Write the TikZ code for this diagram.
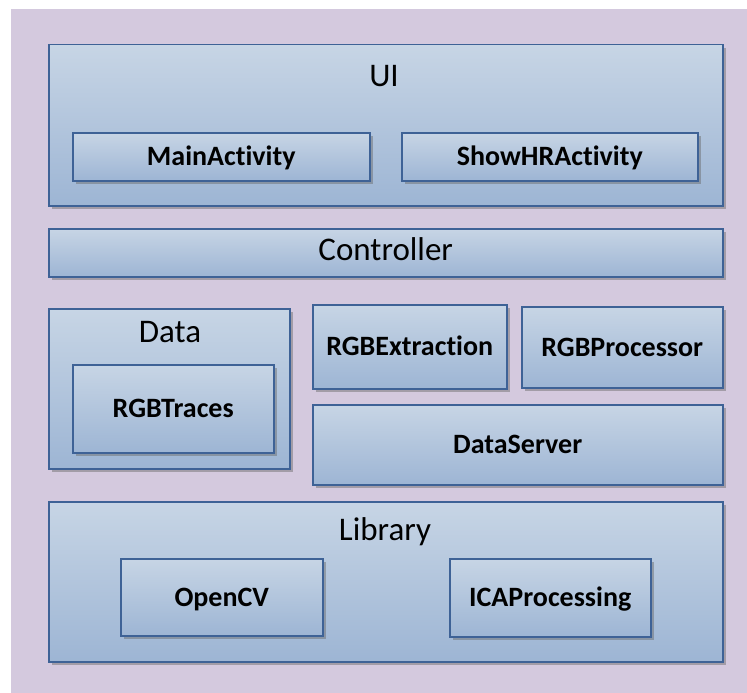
\documentclass[tikz,border=0pt]{standalone}
\usepackage{fontspec}
\setmainfont{Carlito}[Ligatures={NoCommon}]
\usetikzlibrary{shadows}
\definecolor{bgpurple}{RGB}{212,201,222}
\definecolor{boxtop}{RGB}{199,213,229}
\definecolor{boxbottom}{RGB}{157,181,212}
\definecolor{boxline}{RGB}{62,98,150}

\begin{document}
\begin{tikzpicture}[x=1pt, y=-1pt,
  layer/.style={draw=boxline, line width=1.5pt, top color=boxtop, bottom color=boxbottom,
    drop shadow={shadow xshift=3pt, shadow yshift=-3pt, fill=black!60, opacity=.45},
    anchor=north west, inner sep=0pt},
  title/.style={font=\fontsize{33}{36}\selectfont, text height=22pt, text depth=6pt},
  part/.style={layer, font=\fontsize{28}{30}\selectfont\bfseries, text height=19pt, text depth=1pt}]
	\useasboundingbox (0,0) rectangle (747,693);
	\fill[white] (0,0) rectangle (747,693);
	\fill[bgpurple] (11,9) rectangle (747,693);
	% layers
	\node[layer, minimum width=674pt, minimum height=161pt] (ui) at (48,44) {};
	\node[title] (uilabel) at (384,79) {UI};
	\node[part, minimum width=297pt, minimum height=48pt] (mainact) at (72,132) {MainActivity};
	\node[part, minimum width=296pt, minimum height=48pt] (showhr) at (401,132) {ShowHRActivity};
	\node[layer, title, minimum width=674pt, minimum height=48pt] (ctrl) at (48,228) {Controller};
	\node[layer, minimum width=241pt, minimum height=160pt] (data) at (48,308) {};
	\node[title] (datalabel) at (170,334) {Data};
	\node[part, minimum width=201pt, minimum height=88pt] (traces) at (72,364) {RGBTraces};
	\node[part, minimum width=194pt, minimum height=84pt] (extract) at (312,304) {RGBExtraction};
	\node[part, minimum width=201pt, minimum height=81pt] (proc) at (521,306) {RGBProcessor};
	\node[part, minimum width=410pt, minimum height=80pt] (server) at (312,404) {DataServer};
	\node[layer, minimum width=674pt, minimum height=160pt] (lib) at (48,501) {};
	\node[title] (liblabel) at (385,532) {Library};
	\node[part, minimum width=202pt, minimum height=77pt] (opencv) at (120,558) {OpenCV};
	\node[part, minimum width=201pt, minimum height=78pt] (ica) at (449,558) {ICAProcessing};
\end{tikzpicture}
\end{document}
